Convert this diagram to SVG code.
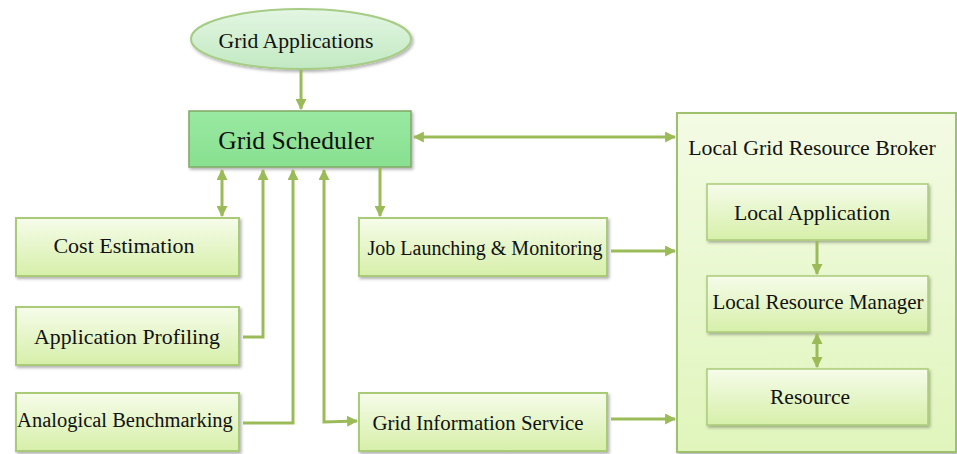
<svg xmlns="http://www.w3.org/2000/svg" width="957" height="454" viewBox="0 0 957 454">
  <style>
    .lbl { font-family: "Liberation Serif", "Times New Roman", serif; fill: #111; text-anchor: middle; }
    .box { fill: url(#lime); stroke: #a9cb78; stroke-width: 2; filter: url(#shade); }
    .inner { fill: url(#lime); stroke: #a9cb78; stroke-width: 1.5; filter: url(#shade); }
    .wire { fill: none; stroke: #9bbb59; stroke-width: 3; }
  </style>
  <defs>
    <linearGradient id="lime" x1="0" y1="0" x2="0" y2="1">
      <stop offset="0" stop-color="#f6fcea"/>
      <stop offset="1" stop-color="#d6efa9"/>
    </linearGradient>
    <linearGradient id="panel" x1="0" y1="0" x2="0" y2="1">
      <stop offset="0" stop-color="#f3fbe4"/>
      <stop offset="1" stop-color="#e0f5bc"/>
    </linearGradient>
    <linearGradient id="mint" x1="0" y1="0" x2="0" y2="1">
      <stop offset="0" stop-color="#e3f6e3"/>
      <stop offset="1" stop-color="#c2e9c2"/>
    </linearGradient>
    <linearGradient id="sched" x1="0" y1="0" x2="0" y2="1">
      <stop offset="0" stop-color="#9ae9a2"/>
      <stop offset="1" stop-color="#88e090"/>
    </linearGradient>
    <filter id="shade" x="-10%" y="-10%" width="120%" height="130%">
      <feDropShadow dx="1.5" dy="2" stdDeviation="1.5" flood-color="#000" flood-opacity="0.3"/>
    </filter>
    <marker id="head" viewBox="0 0 10 10" refX="9" refY="5" markerWidth="11" markerHeight="11"
            markerUnits="userSpaceOnUse" orient="auto-start-reverse">
      <path d="M0,0 L10,5 L0,10 Z" fill="#9bbb59"/>
    </marker>
  </defs>

  <rect width="957" height="454" fill="#ffffff"/>

  <!-- outer broker panel -->
  <g id="broker">
    <rect x="677" y="113" width="279" height="339" fill="url(#panel)" stroke="#9fc06e" stroke-width="2" filter="url(#shade)"/>
    <text class="lbl" x="812" y="155" font-size="21.8">Local Grid Resource Broker</text>
  </g>

  <g id="grid-applications">
    <ellipse cx="301" cy="39" rx="110" ry="30" fill="url(#mint)" stroke="#a6cc86" stroke-width="2" filter="url(#shade)"/>
    <text class="lbl" x="296" y="48" font-size="21.7">Grid Applications</text>
  </g>

  <g id="grid-scheduler">
    <rect x="189" y="111" width="222" height="56" fill="url(#sched)" stroke="#7fa864" stroke-width="1.5" filter="url(#shade)"/>
    <text class="lbl" x="296" y="149" font-size="25.6">Grid Scheduler</text>
  </g>

  <g id="cost-estimation">
    <rect class="box" x="16" y="218" width="223" height="58"/>
    <text class="lbl" x="124" y="253" font-size="22">Cost Estimation</text>
  </g>

  <g id="application-profiling">
    <rect class="box" x="16" y="307" width="223" height="58"/>
    <text class="lbl" x="127" y="344" font-size="21.8">Application Profiling</text>
  </g>

  <g id="analogical-benchmarking">
    <rect class="box" x="16" y="393" width="223" height="58"/>
    <text class="lbl" x="125" y="427" font-size="20.5">Analogical Benchmarking</text>
  </g>

  <g id="job-launching">
    <rect class="box" x="359" y="218" width="248" height="58"/>
    <text class="lbl" x="485" y="255" font-size="20">Job Launching &amp; Monitoring</text>
  </g>

  <g id="grid-information-service">
    <rect class="box" x="359" y="393" width="248" height="58"/>
    <text class="lbl" x="478" y="430" font-size="20.9">Grid Information Service</text>
  </g>

  <g id="local-application">
    <rect class="inner" x="707" y="184" width="221" height="56"/>
    <text class="lbl" x="812" y="220" font-size="21.7">Local Application</text>
  </g>

  <g id="local-resource-manager">
    <rect class="inner" x="707" y="276" width="221" height="56"/>
    <text class="lbl" x="818" y="309" font-size="21">Local Resource Manager</text>
  </g>

  <g id="resource">
    <rect class="inner" x="707" y="369" width="221" height="56"/>
    <text class="lbl" x="810" y="404" font-size="21.5">Resource</text>
  </g>

  <!-- connectors -->
  <g id="connectors" class="wire">
    <path class="wire" d="M301,70 V109" marker-end="url(#head)"/>
    <path class="wire" d="M222,170 V216" marker-start="url(#head)" marker-end="url(#head)"/>
    <path class="wire" d="M243,337 H263 V170" marker-end="url(#head)"/>
    <path class="wire" d="M243,423 H293 V170" marker-end="url(#head)"/>
    <path class="wire" d="M324,170 V422 L357,421" marker-start="url(#head)" marker-end="url(#head)"/>
    <path class="wire" d="M380,168 V216" marker-end="url(#head)"/>
    <path class="wire" d="M414,137 H675" marker-start="url(#head)" marker-end="url(#head)"/>
    <path class="wire" d="M611,251 H675" marker-end="url(#head)"/>
    <path class="wire" d="M611,419 H675" marker-end="url(#head)"/>
    <path class="wire" d="M817,241 V274" marker-end="url(#head)"/>
    <path class="wire" d="M817,334 V367" marker-start="url(#head)" marker-end="url(#head)"/>
  </g>
</svg>
